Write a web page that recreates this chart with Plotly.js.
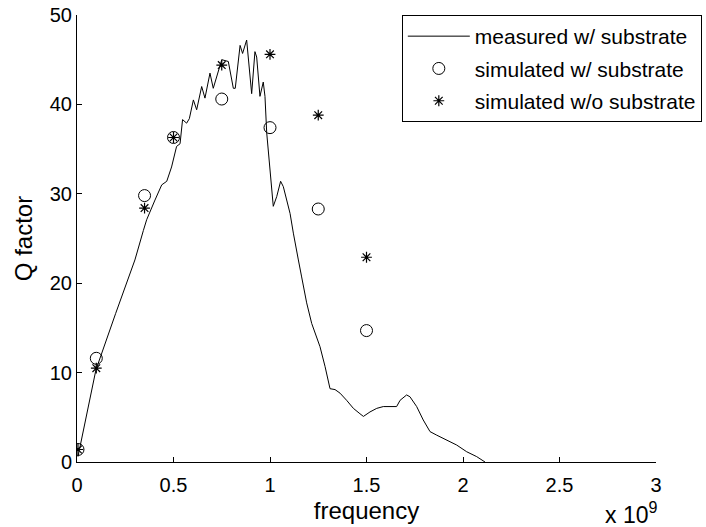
<!DOCTYPE html>
<html>
<head>
<meta charset="utf-8">
<script src="https://cdn.plot.ly/plotly-3.0.1.min.js"></script>
<style>html,body{margin:0;padding:0;background:#fff;}#chart{width:706px;height:527px;}</style>
</head>
<body>
<div id="chart"></div>
<script>
// frequency in units of 1e9 Hz
var measuredFreq = [0.005,0.05,0.098,0.2,0.30,0.344,0.361,0.404,0.439,0.465,0.49,0.516,0.534,0.547,0.568,0.582,0.603,0.62,0.646,0.663,0.689,0.706,0.732,0.75,0.784,0.81,0.82,0.845,0.858,0.879,0.905,0.922,0.931,0.948,0.965,0.974,0.983,1.0,1.017,1.035,1.055,1.069,1.083,1.104,1.121,1.138,1.147,1.164,1.19,1.216,1.259,1.285,1.311,1.337,1.363,1.397,1.432,1.466,1.484,1.518,1.553,1.587,1.622,1.656,1.674,1.708,1.725,1.76,1.794,1.829,1.864,1.915,1.967,2.019,2.071,2.114];
var measuredQ = [0.6,5.5,10.3,16.6,22.6,25.9,27.1,29.3,31.0,31.4,33.0,35.3,35.6,38.3,37.9,38.4,40.5,39.4,42.0,40.7,43.5,41.8,43.7,45.0,44.8,41.8,41.8,46.6,45.7,47.2,41.2,45.9,45.3,40.9,42.5,40.9,36.8,32.3,28.6,29.7,31.4,30.8,29.5,27.8,25.6,23.3,22.6,20.7,17.8,15.5,12.9,10.7,8.2,8.1,7.7,6.9,6.0,5.4,5.1,5.6,6.0,6.2,6.2,6.2,6.9,7.5,7.3,6.2,4.7,3.4,3.0,2.5,1.9,1.15,0.6,0];
var simFreq = [0.005,0.1,0.35,0.5,0.75,1.0,1.25,1.5];
var simWithSubQ = [1.4,11.6,29.8,36.3,40.6,37.4,28.3,14.7];
var simWithoutSubQ = [1.4,10.5,28.4,36.3,44.4,45.6,38.8,22.9];
var xTicks = [0,0.5,1,1.5,2,2.5,3];
var xTickText = ['0','0.5','1','1.5','2','2.5','3'];
var yTicks = [0,10,20,30,40,50];

var font = 'Liberation Sans, Arial, sans-serif';
var traces = [
  {x: measuredFreq, y: measuredQ, mode: 'lines', name: 'measured w/ substrate',
   line: {color: '#000', width: 1}, legendgroup: 'a'},
  {x: simFreq, y: simWithSubQ, mode: 'markers', name: 'simulated w/ substrate',
   marker: {symbol: 'circle-open', size: 12, color: '#000', line: {width: 1, color: '#000'}}, legendgroup: 'b'},
  {x: simFreq, y: simWithoutSubQ, mode: 'markers', name: 'simulated w/o substrate',
   marker: {symbol: 'asterisk-open', size: 9, color: '#000', line: {width: 1.2, color: '#000'}}, legendgroup: 'c'}
];
var layout = {
  width: 706, height: 527,
  margin: {l: 77, r: 50, t: 15, b: 65, autoexpand: false},
  paper_bgcolor: '#fff', plot_bgcolor: '#fff',
  font: {family: font, color: '#000', size: 20},
  showlegend: true,
  legend: {x: 0.561, y: 1, xanchor: 'left', yanchor: 'top', bgcolor: '#fff',
    bordercolor: '#000', borderwidth: 1, font: {family: font, size: 21, color: '#000'},
    traceorder: 'grouped', tracegroupgap: 2, itemwidth: 62},
  xaxis: {range: [0, 3], autorange: false, tickvals: xTicks, ticktext: xTickText,
    ticks: 'inside', ticklen: 5, tickcolor: '#000', showline: true, linecolor: '#000', linewidth: 1,
    showgrid: false, zeroline: false, mirror: false, tickfont: {size: 20}, ticklabelstandoff: 5,
    title: {text: 'frequency', font: {size: 24}, standoff: 7}},
  yaxis: {range: [0, 50], autorange: false, tickvals: yTicks,
    ticks: 'inside', ticklen: 5, tickcolor: '#000', showline: true, linecolor: '#000', linewidth: 1,
    showgrid: false, zeroline: false, mirror: false, tickfont: {size: 20},
    title: {text: 'Q factor', font: {size: 24}, standoff: 10}},
  annotations: [
    {xref: 'paper', yref: 'paper', x: 1.005, y: -0.152, xanchor: 'right', yanchor: 'bottom',
     text: 'x 10<sup>9</sup>', showarrow: false, font: {size: 23}}
  ]
};
Plotly.newPlot('chart', traces, layout, {staticPlot: true, displayModeBar: false});
</script>
</body>
</html>
